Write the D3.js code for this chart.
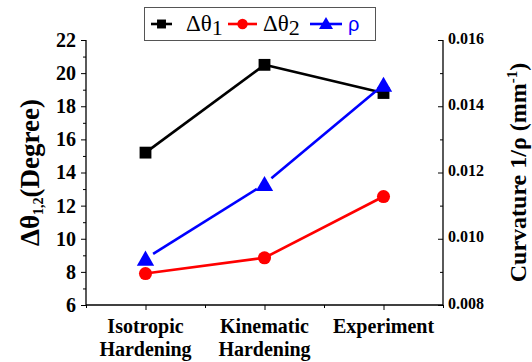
<!DOCTYPE html>
<html>
<head>
<meta charset="utf-8">
<script src="https://cdn.jsdelivr.net/npm/d3@7"></script>
<style>
  body { margin: 0; background: #fff; }
  svg { display: block; }
</style>
</head>
<body>
<div id="chart"></div>
<script>
// data
const categories = [["Isotropic", "Hardening"], ["Kinematic", "Hardening"], ["Experiment"]];
const dTheta1 = [15.2, 20.5, 18.8];
const dTheta2 = [7.9, 8.85, 12.55];
const rho = [0.0094, 0.01165, 0.01465];
const leftTicks = [6, 8, 10, 12, 14, 16, 18, 20, 22];
const rightTicks = [0.008, 0.010, 0.012, 0.014, 0.016];

const FONT = "Liberation Serif";
const width = 532, height = 362;
const plot = { left: 86, right: 443, top: 40, bottom: 305 };

const svg = d3.select("#chart")
  .append("svg")
  .attr("width", width)
  .attr("height", height)
  .attr("font-family", FONT);

const x = d3.scaleLinear()
  .domain([0.5, 3.5])
  .range([plot.left, plot.right]);

const yL = d3.scaleLinear()
  .domain([6, 22])
  .range([plot.bottom, plot.top]);

const yR = d3.scaleLinear()
  .domain([0.008, 0.016])
  .range([plot.bottom, plot.top]);

// left axis: ticks point outward
svg.append("g")
  .attr("transform", `translate(${plot.left},0)`)
  .call(d3.axisLeft(yL).tickValues(d3.range(6, 23, 1)).tickSize(0).tickFormat(""))
  .call(g => g.select(".domain").remove())
  .call(g => g.selectAll(".tick line")
    .attr("x2", d => d % 2 === 0 ? -5 : -3)
    .attr("stroke", "#000").attr("stroke-width", 1));

svg.append("g")
  .attr("transform", `translate(${plot.left},0)`)
  .call(d3.axisLeft(yL).tickValues(leftTicks).tickSize(0).tickPadding(10).tickFormat(d3.format("d")))
  .attr("font-family", FONT)
  .call(g => g.select(".domain").remove())
  .call(g => g.selectAll("text")
    .attr("font-family", FONT)
    .attr("font-size", 20).attr("font-weight", "bold")
    .attr("fill", "#000"));

// right axis: ticks point inward
svg.append("g")
  .attr("transform", `translate(${plot.right},0)`)
  .call(d3.axisRight(yR).tickValues(d3.range(0, 9).map(i => 0.008 + i * 0.001)).tickSize(0).tickFormat(""))
  .call(g => g.select(".domain").remove())
  .call(g => g.selectAll(".tick line")
    .attr("x2", (d, i) => i % 2 === 0 ? -5 : -3)
    .attr("stroke", "#000").attr("stroke-width", 1));

svg.append("g")
  .attr("transform", `translate(${plot.right},0)`)
  .call(d3.axisRight(yR).tickValues(rightTicks).tickSize(0).tickPadding(5).tickFormat(d3.format(".3f")))
  .attr("font-family", FONT)
  .call(g => g.select(".domain").remove())
  .call(g => g.selectAll("text")
    .attr("font-family", FONT)
    .attr("font-size", 16).attr("font-weight", "bold")
    .attr("fill", "#000")
    .attr("dy", "0.2em"));

// bottom axis: ticks point outward
svg.append("g")
  .attr("transform", `translate(0,${plot.bottom})`)
  .call(d3.axisBottom(x).tickValues([0.5, 1, 1.5, 2, 2.5, 3, 3.5]).tickSize(0).tickFormat(""))
  .call(g => g.select(".domain").remove())
  .call(g => g.selectAll(".tick line")
    .attr("y2", d => Number.isInteger(d) ? 5 : 3)
    .attr("stroke", "#000").attr("stroke-width", 1));

// axis lines
svg.append("line")
  .attr("x1", plot.left).attr("x2", plot.left)
  .attr("y1", plot.top).attr("y2", plot.bottom)
  .attr("stroke", "#000").attr("stroke-width", 1.3);
svg.append("line")
  .attr("x1", plot.right).attr("x2", plot.right)
  .attr("y1", plot.top).attr("y2", plot.bottom)
  .attr("stroke", "#000").attr("stroke-width", 1.3);
svg.append("line")
  .attr("x1", plot.left).attr("x2", plot.right)
  .attr("y1", plot.bottom).attr("y2", plot.bottom)
  .attr("stroke", "#000").attr("stroke-width", 1.3);

// category labels
categories.forEach((lines, i) => {
  const t = svg.append("text")
    .attr("x", x(i + 1))
    .attr("y", 333)
    .attr("text-anchor", "middle")
    .attr("font-family", FONT)
    .attr("font-size", 20)
    .attr("font-weight", "bold");
  lines.forEach((s, j) => {
    t.append("tspan")
      .attr("x", x(i + 1))
      .attr("dy", j === 0 ? 0 : 23)
      .text(s);
  });
});

// axis titles
const leftTitle = svg.append("text")
  .attr("transform", `translate(39,${(plot.top + plot.bottom) / 2}) rotate(-90)`)
  .attr("text-anchor", "middle")
  .attr("font-family", FONT)
  .attr("font-size", 27)
  .attr("font-weight", "bold");
leftTitle.append("tspan").text("Δθ");
leftTitle.append("tspan").attr("font-size", 14).attr("dy", 4).text("1,2");
leftTitle.append("tspan").attr("dy", -4).text("(Degree)");

const rightTitle = svg.append("text")
  .attr("transform", `translate(526,${(plot.top + plot.bottom) / 2}) rotate(-90)`)
  .attr("text-anchor", "middle")
  .attr("font-family", FONT)
  .attr("font-size", 24)
  .attr("font-weight", "bold");
rightTitle.append("tspan").text("Curvature 1/ρ (mm");
rightTitle.append("tspan").attr("font-size", 15).attr("dy", -9).text("-1");
rightTitle.append("tspan").attr("dy", 9).text(")");

// series
const series = [
  { name: "dTheta1", values: dTheta1, y: yL, color: "#000000", symbol: d3.symbolSquare, size: 140, gap: 0 },
  { name: "dTheta2", values: dTheta2, y: yL, color: "#ff0000", symbol: d3.symbolCircle, size: 135, gap: 0 },
  { name: "rho", values: rho, y: yR, color: "#0000ff", symbol: d3.symbolTriangle, size: 130, gap: 9 }
];

series.forEach(s => {
  const pts = s.values.map((v, i) => [x(i + 1), s.y(v)]);
  const segs = d3.pairs(pts).map(([a, b]) => {
    const dx = b[0] - a[0], dy = b[1] - a[1];
    const len = Math.hypot(dx, dy);
    const ux = dx / len, uy = dy / len;
    return [[a[0] + ux * s.gap, a[1] + uy * s.gap], [b[0] - ux * s.gap, b[1] - uy * s.gap]];
  });
  svg.append("g")
    .selectAll("line")
    .data(segs)
    .enter()
    .append("line")
    .attr("x1", d => d[0][0]).attr("y1", d => d[0][1])
    .attr("x2", d => d[1][0]).attr("y2", d => d[1][1])
    .attr("stroke", s.color)
    .attr("stroke-width", 2.6);
  svg.append("g")
    .selectAll("path")
    .data(pts)
    .enter()
    .append("path")
    .attr("transform", d => `translate(${d[0]},${d[1] + (s.symbol === d3.symbolTriangle ? 2 : 0)})`)
    .attr("d", d3.symbol().type(s.symbol).size(s.size))
    .attr("fill", s.color);
});

// legend
const legend = svg.append("g");
legend.append("rect")
  .attr("x", 144.5).attr("y", 7.5)
  .attr("width", 231).attr("height", 33)
  .attr("fill", "#fff")
  .attr("stroke", "#555")
  .attr("stroke-width", 1);

const legendItems = [
  { x0: 151, x1: 172, tx: 186, color: "#000000", symbol: d3.symbolSquare, size: 80, label: ["Δθ", "1"], textColor: "#000" },
  { x0: 228, x1: 257, tx: 263, color: "#ff0000", symbol: d3.symbolCircle, size: 85, label: ["Δθ", "2"], textColor: "#000" },
  { x0: 310, x1: 342, tx: 348, color: "#0000ff", symbol: d3.symbolTriangle, size: 85, label: ["ρ", ""], textColor: "#0000ff" }
];

legendItems.forEach(it => {
  legend.append("line")
    .attr("x1", it.x0).attr("x2", it.x1)
    .attr("y1", 24).attr("y2", 24)
    .attr("stroke", it.color).attr("stroke-width", 2.6);
  legend.append("path")
    .attr("transform", `translate(${(it.x0 + it.x1) / 2},${it.symbol === d3.symbolTriangle ? 25 : 24})`)
    .attr("d", d3.symbol().type(it.symbol).size(it.size))
    .attr("fill", it.color);
  const t = legend.append("text")
    .attr("x", it.tx).attr("y", 31)
    .attr("font-family", FONT)
    .attr("font-size", 23)
    .attr("fill", it.textColor);
  if (it.label[1]) {
    t.append("tspan").text(it.label[0]);
    t.append("tspan").attr("dy", 4).attr("font-size", 22).text(it.label[1]);
  } else {
    t.attr("font-family", "Liberation Sans").attr("font-size", 20).text(it.label[0]);
  }
});
</script>
</body>
</html>
